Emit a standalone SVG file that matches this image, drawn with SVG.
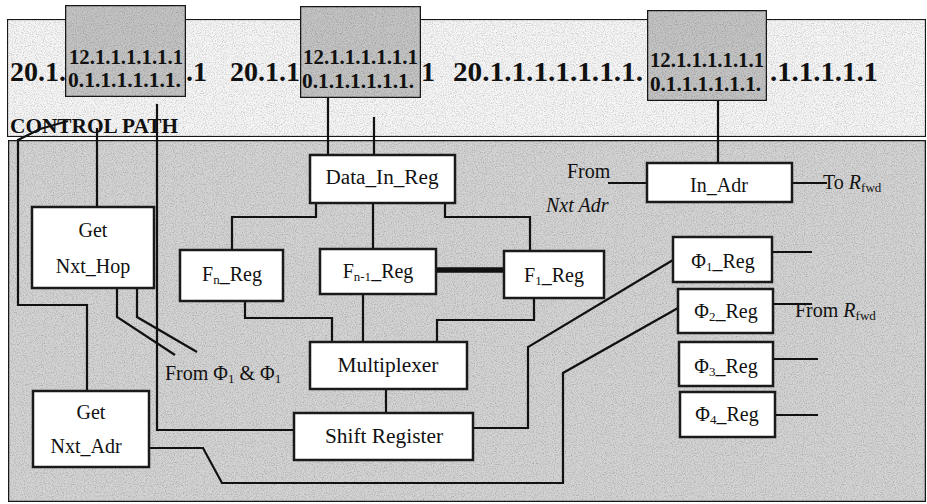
<svg xmlns="http://www.w3.org/2000/svg" width="927" height="504" viewBox="0 0 927 504">
<defs>
<filter id="grain" x="0" y="0" width="100%" height="100%">
<feTurbulence type="fractalNoise" baseFrequency="0.9" numOctaves="2" seed="3" result="n"/>
<feColorMatrix in="n" type="matrix" values="0 0 0 0 0  0 0 0 0 0  0 0 0 0 0  0 0 0 -0.9 0.52" result="a"/>
<feComposite in="a" in2="SourceGraphic" operator="in" result="b"/>
<feMerge><feMergeNode in="SourceGraphic"/><feMergeNode in="b"/></feMerge>
</filter>
<style>
.box{fill:#ffffff;stroke:#1a1a1a;stroke-width:2.5}
.tbox{fill:#c4c4c4;stroke:#1a1a1a;stroke-width:2.5}
.ln{fill:none;stroke:#111;stroke-width:2.2}
.thick{fill:none;stroke:#111;stroke-width:5.5}
.t{font-family:"Liberation Serif","Times New Roman",serif;font-size:20px;fill:#111;text-anchor:middle}
.big{font-family:"Liberation Serif","Times New Roman",serif;font-size:28px;font-weight:bold;fill:#111}
.sm{font-family:"Liberation Serif","Times New Roman",serif;font-size:20px;font-weight:bold;fill:#111}
.lbl{font-family:"Liberation Serif","Times New Roman",serif;font-size:20px;fill:#111}
.sub{font-size:13px}
</style>
</defs>
<g id="bands">
<rect x="7" y="19" width="919" height="118" fill="#f6f6f6" stroke="#1a1a1a" stroke-width="2.2" filter="url(#grain)"/>
<rect x="8" y="140" width="918" height="362" fill="#d4d4d4" stroke="#1a1a1a" stroke-width="2.5" filter="url(#grain)"/>
</g>
<g id="address-text">
<text class="big" x="10" y="81">20.1.</text>
<text class="big" x="186" y="81">.1</text>
<text class="big" x="230" y="81">20.1.1</text>
<text class="big" x="421" y="81">1</text>
<text class="big" x="453" y="81" textLength="190" lengthAdjust="spacingAndGlyphs">20.1.1.1.1.1.1.1.</text>
<text class="big" x="770" y="81" textLength="108" lengthAdjust="spacingAndGlyphs">.1.1.1.1.1</text>
<text class="sm" x="10" y="133" textLength="168" lengthAdjust="spacingAndGlyphs">CONTROL PATH</text>
</g>
<g id="addr-box-1">
<rect class="tbox" x="65" y="5" width="121" height="92" filter="url(#grain)"/>
<text class="sm" x="69" y="64" textLength="114" lengthAdjust="spacingAndGlyphs">12.1.1.1.1.1.1</text>
<text class="sm" x="68" y="87" textLength="113" lengthAdjust="spacingAndGlyphs">0.1.1.1.1.1.1.</text>
</g>
<g id="addr-box-2">
<rect class="tbox" x="300" y="6" width="121" height="92" filter="url(#grain)"/>
<text class="sm" x="303" y="64" textLength="115" lengthAdjust="spacingAndGlyphs">12.1.1.1.1.1.1</text>
<text class="sm" x="302" y="88" textLength="112" lengthAdjust="spacingAndGlyphs">0.1.1.1.1.1.1.</text>
</g>
<g id="addr-box-3">
<rect class="tbox" x="647" y="10" width="120" height="91" filter="url(#grain)"/>
<text class="sm" x="650" y="67" textLength="114" lengthAdjust="spacingAndGlyphs">12.1.1.1.1.1.1</text>
<text class="sm" x="650" y="91" textLength="111" lengthAdjust="spacingAndGlyphs">0.1.1.1.1.1.1.</text>
</g>
<g id="connectors">
<path class="ln" d="M68 121 L40 129 L18 140 L18 305 L87 305 L87 391"/>
<path class="ln" d="M97 128 L97 207"/>
<path class="ln" d="M157 104 L157 430 L294 430"/>
<path class="ln" d="M328 98 L328 155"/>
<path class="ln" d="M374 117 L374 155"/>
<path class="ln" d="M718 101 L718 163"/>
<path class="ln" d="M316 192 L316 217 L232 217 L232 250"/>
<path class="ln" d="M373 203 L373 249"/>
<path class="ln" d="M445 193 L445 217 L530 217 L530 251"/>
<path class="thick" d="M436 270 L504 270"/>
<path class="ln" d="M245 301 L245 318 L332 318 L332 342"/>
<path class="ln" d="M363 294 L363 342"/>
<path class="ln" d="M534 292 L534 320 L437 320 L437 342"/>
<path class="ln" d="M386 389 L386 413"/>
<path class="ln" d="M117 280 L117 317 L175 355"/>
<path class="ln" d="M137 280 L137 317 L197 352"/>
<path class="ln" d="M673 260 L528 347 L528 428 L473 428"/>
<path class="ln" d="M678 308 L563 373 L563 483 L222 483 L203 448 L144 448"/>
<path class="ln" d="M608 183 L647 183"/>
<path class="ln" d="M792 183 L827 183"/>
<path class="ln" d="M772 252 L812 252"/>
<path class="ln" d="M773 304 L812 304"/>
<path class="ln" d="M773 359 L818 359"/>
<path class="ln" d="M775 415 L818 415"/>
</g>
<g id="get-nxt-hop">
<rect class="box" x="32" y="207" width="122" height="81"/>
<text class="t" x="93" y="237">Get</text>
<text class="t" x="93" y="273">Nxt_Hop</text>
</g>
<g id="get-nxt-adr">
<rect class="box" x="33" y="391" width="116" height="76"/>
<text class="t" x="91" y="419">Get</text>
<text class="t" x="86" y="453">Nxt_Adr</text>
</g>
<g id="data-in-reg">
<rect class="box" x="310" y="155" width="145" height="48"/>
<text class="t" x="382" y="184" textLength="113" lengthAdjust="spacingAndGlyphs">Data_In_Reg</text>
</g>
<g id="fn-reg">
<rect class="box" x="180" y="250" width="103" height="51"/>
<text class="t" x="232" y="281">F<tspan class="sub" dy="3">n</tspan><tspan dy="-3">_Reg</tspan></text>
</g>
<g id="fn1-reg">
<rect class="box" x="320" y="249" width="116" height="45"/>
<text class="t" x="378" y="278">F<tspan class="sub" dy="3">n-1</tspan><tspan dy="-3">_Reg</tspan></text>
</g>
<g id="f1-reg">
<rect class="box" x="504" y="251" width="100" height="47"/>
<text class="t" x="554" y="282">F<tspan class="sub" dy="3">1</tspan><tspan dy="-3">_Reg</tspan></text>
</g>
<g id="multiplexer">
<rect class="box" x="310" y="342" width="157" height="47"/>
<text class="t" x="388" y="372" textLength="101" lengthAdjust="spacingAndGlyphs">Multiplexer</text>
</g>
<g id="shift-register">
<rect class="box" x="294" y="413" width="179" height="47"/>
<text class="t" x="384" y="443" textLength="118" lengthAdjust="spacingAndGlyphs">Shift Register</text>
</g>
<g id="in-adr">
<rect class="box" x="647" y="163" width="145" height="39"/>
<text class="t" x="719" y="192">In_Adr</text>
</g>
<g id="phi1-reg">
<rect class="box" x="673" y="237" width="99" height="45"/>
<text class="t" x="723" y="268">Φ<tspan class="sub" dy="3">1</tspan><tspan dy="-3">_Reg</tspan></text>
</g>
<g id="phi2-reg">
<rect class="box" x="678" y="289" width="95" height="44"/>
<text class="t" x="726" y="318">Φ<tspan class="sub" dy="3">2</tspan><tspan dy="-3">_Reg</tspan></text>
</g>
<g id="phi3-reg">
<rect class="box" x="679" y="342" width="94" height="44"/>
<text class="t" x="726" y="373">Φ<tspan class="sub" dy="3">3</tspan><tspan dy="-3">_Reg</tspan></text>
</g>
<g id="phi4-reg">
<rect class="box" x="680" y="392" width="95" height="45"/>
<text class="t" x="727" y="421">Φ<tspan class="sub" dy="3">4</tspan><tspan dy="-3">_Reg</tspan></text>
</g>
<g id="labels">
<text class="lbl" x="567" y="178">From</text>
<text class="lbl" x="546" y="212" font-style="italic">Nxt Adr</text>
<text class="lbl" x="823" y="189">To <tspan font-style="italic">R</tspan><tspan class="sub" dy="3">fwd</tspan></text>
<text class="lbl" x="795" y="317">From <tspan font-style="italic">R</tspan><tspan class="sub" dy="3">fwd</tspan></text>
<text class="lbl" x="165" y="380">From Φ<tspan class="sub" dy="3">1</tspan><tspan dy="-3"> &amp; Φ</tspan><tspan class="sub" dy="3">1</tspan></text>
</g>
</svg>
